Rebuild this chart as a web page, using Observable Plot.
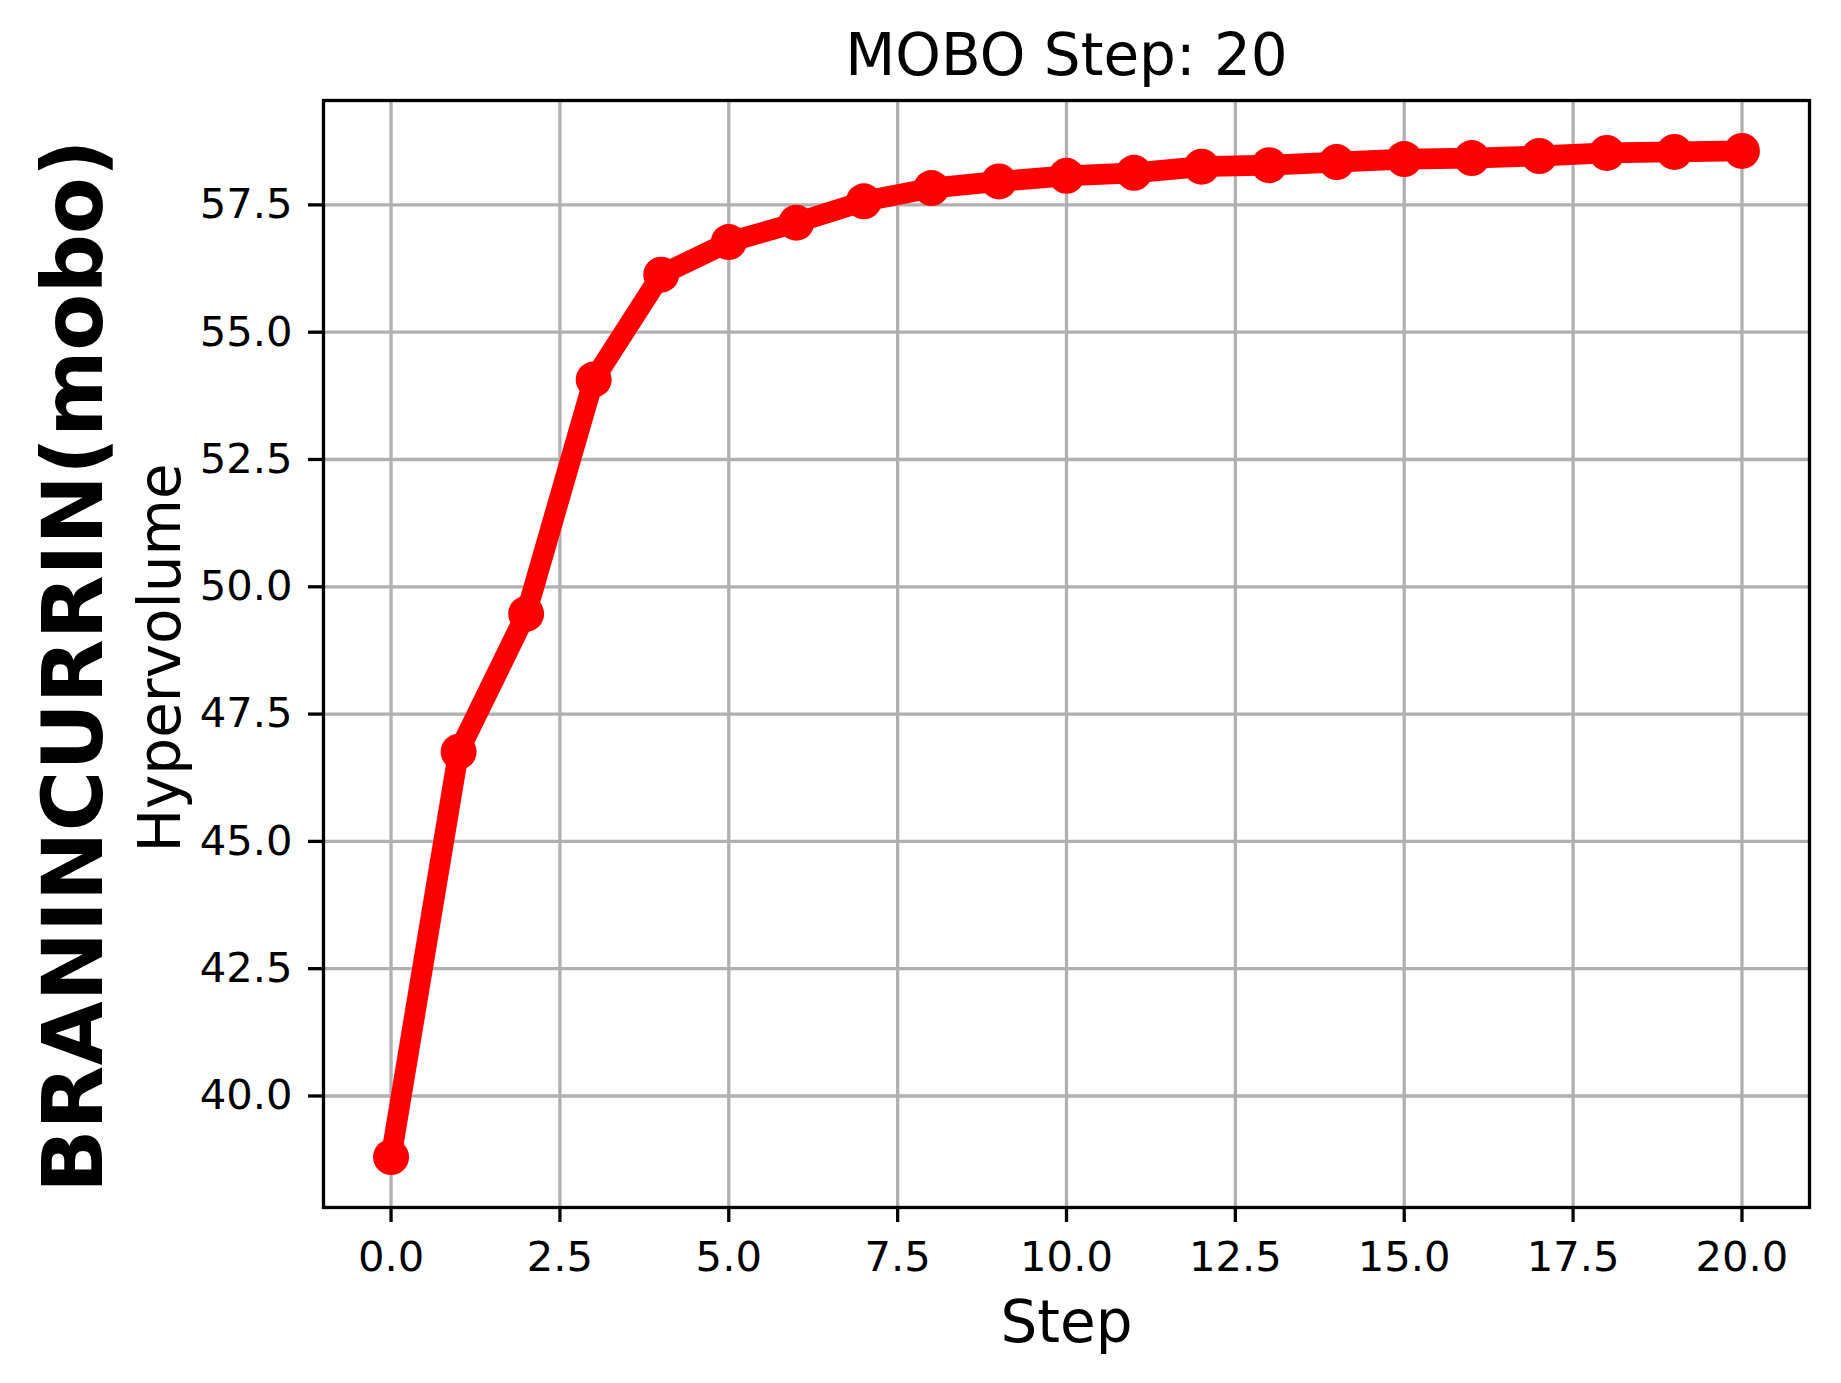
<!DOCTYPE html>
<html>
<head>
<meta charset="utf-8">
<script src="https://cdn.jsdelivr.net/npm/d3@7"></script>
<script src="https://cdn.jsdelivr.net/npm/@observablehq/plot@0.6"></script>
<style>
  html, body { margin: 0; padding: 0; background: #fff; }
  #chart svg { display: block; }
</style>
</head>
<body>
<div id="chart"></div>
<script>
const steps = [0,1,2,3,4,5,6,7,8,9,10,11,12,13,14,15,16,17,18,19,20];
const hypervolume = [38.80, 46.76, 49.47, 54.07, 56.13, 56.77, 57.15, 57.57, 57.83, 57.96, 58.07, 58.13, 58.25, 58.28, 58.34, 58.40, 58.42, 58.46, 58.52, 58.54, 58.56];
const xTicks = [0, 2.5, 5, 7.5, 10, 12.5, 15, 17.5, 20];
const yTicks = [40, 42.5, 45, 47.5, 50, 52.5, 55, 57.5];
const titleText = "MOBO Step: 20";
const xLabel = "Step";
const yLabel = "Hypervolume";
const rowLabel = "BRANINCURRIN(mobo)";

const data = steps.map((s, i) => ({step: s, hv: hypervolume[i]}));
const fmt = d3.format(".1f");
const lw = 3.3;

const chart = Plot.plot({
  width: 1841,
  height: 1383,
  marginTop: 100,
  marginBottom: 176,
  marginLeft: 323,
  marginRight: 32,
  style: {background: "#fff", fontFamily: "'DejaVu Sans', sans-serif", color: "#000", overflow: "visible"},
  x: {domain: [-1, 21]},
  y: {domain: [37.81, 59.55]},
  marks: [
    Plot.gridX(xTicks, {stroke: "#b0b0b0", strokeOpacity: 1, strokeWidth: lw}),
    Plot.gridY(yTicks, {stroke: "#b0b0b0", strokeOpacity: 1, strokeWidth: lw}),
    Plot.line(data, {x: "step", y: "hv", stroke: "#ff0000", strokeWidth: 20.8}),
    Plot.dot(data, {x: "step", y: "hv", r: 18, fill: "#ff0000", stroke: null}),
    Plot.axisX(xTicks, {tickFormat: fmt, tickSize: 15, tickPadding: 19, fontSize: 41.7, strokeWidth: lw, label: null}),
    Plot.axisY(yTicks, {tickFormat: fmt, tickSize: 15, tickPadding: 16, fontSize: 41.7, strokeWidth: lw, label: null}),
    Plot.frame({stroke: "#000", strokeWidth: lw}),
    Plot.text([titleText], {frameAnchor: "top", textAnchor: "middle", lineAnchor: "middle", dy: -43.6, fontSize: 58, fill: "#000"}),
    Plot.text([xLabel], {frameAnchor: "bottom", textAnchor: "middle", lineAnchor: "middle", dy: 116, fontSize: 58, fill: "#000"}),
    Plot.text([yLabel], {frameAnchor: "left", textAnchor: "middle", lineAnchor: "middle", rotate: -90, dx: -161.6, dy: 4, fontSize: 58, fill: "#000"}),
    Plot.text([rowLabel], {frameAnchor: "left", textAnchor: "middle", lineAnchor: "middle", rotate: -90, dx: -247.6, dy: 12, fontSize: 83, fontWeight: "bold", fill: "#000"})
  ]
});
document.getElementById("chart").appendChild(chart);
</script>
</body>
</html>
